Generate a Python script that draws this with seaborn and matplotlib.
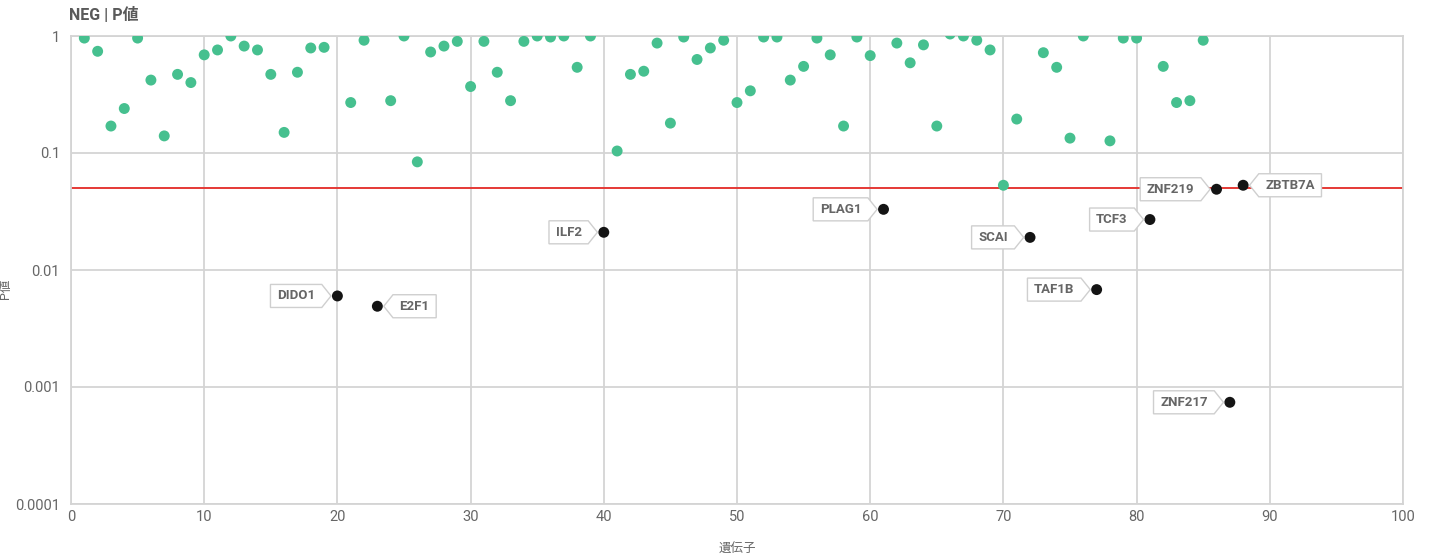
import numpy as np
import pandas as pd
import matplotlib
matplotlib.use("Agg")
import matplotlib.pyplot as plt
import seaborn as sns
from matplotlib.path import Path

# ---------------- data ----------------
gene_index = list(range(1, 89))
p_values = [
    0.96, 0.74, 0.17, 0.24, 0.96, 0.42, 0.14, 0.47, 0.40, 0.69,
    0.76, 1.00, 0.82, 0.76, 0.47, 0.15, 0.49, 0.79, 0.80, 0.0060,
    0.27, 0.92, 0.0049, 0.28, 1.00, 0.084, 0.73, 0.82, 0.90, 0.37,
    0.90, 0.49, 0.28, 0.90, 1.00, 0.98, 1.00, 0.54, 1.00, 0.021,
    0.104, 0.47, 0.50, 0.87, 0.18, 0.98, 0.63, 0.79, 0.92, 0.27,
    0.34, 0.98, 0.98, 0.42, 0.55, 0.96, 0.69, 0.17, 0.98, 0.68,
    0.033, 0.87, 0.59, 0.84, 0.17, 1.04, 1.00, 0.92, 0.76, 0.053,
    0.195, 0.019, 0.72, 0.54, 0.134, 1.00, 0.0068, 0.127, 0.96, 0.96,
    0.027, 0.55, 0.27, 0.28, 0.92, 0.049, 0.00074, 0.053,
]
labeled_genes = {
    20: "DIDO1", 23: "E2F1", 40: "ILF2", 61: "PLAG1", 72: "SCAI",
    77: "TAF1B", 81: "TCF3", 86: "ZNF219", 87: "ZNF217", 88: "ZBTB7A",
}
right_side_labels = ["E2F1", "ZBTB7A"]
threshold = 0.05
y_ticks = [1, 0.1, 0.01, 0.001, 0.0001]
y_tick_labels = ["1", "0.1", "0.01", "0.001", "0.0001"]
x_ticks = [0, 10, 20, 30, 40, 50, 60, 70, 80, 90, 100]
title = "NEG | P値"
x_label = "遺伝子"
y_label = "P値"

df = pd.DataFrame({"gene": gene_index, "p": p_values})
df["group"] = ["hit" if g in labeled_genes else "other" for g in df["gene"]]

# ---------------- style ----------------
sns.set_theme(style="white")
plt.rcParams["font.family"] = ["Roboto", "Noto Sans CJK JP", "DejaVu Sans"]

GREEN = "#46c08f"
BLACK = "#141414"
GRID = "#d4d4d4"
TXT = "#666666"

fig = plt.figure(figsize=(14.29, 5.56), dpi=100)
ax = fig.add_axes([71 / 1429, 1 - 504 / 556, (1403 - 71) / 1429, (504 - 36) / 556])

sns.scatterplot(data=df, x="gene", y="p", hue="group",
                palette={"other": GREEN, "hit": BLACK},
                s=62, linewidth=0, legend=False, ax=ax, zorder=3)

ax.set_yscale("log")
ax.set_ylim(0.0001, 1)
ax.set_xlim(0, 100)
ax.set_yticks(y_ticks)
ax.set_yticklabels(y_tick_labels)
ax.set_xticks(x_ticks)
ax.minorticks_off()
ax.grid(True, color=GRID, linewidth=1.3)
ax.set_axisbelow(True)
for s in ax.spines.values():
    s.set_color(GRID)
    s.set_linewidth(1.3)
ax.tick_params(axis="both", colors=GRID, labelcolor=TXT, labelsize=10.5,
               length=5, width=1.3)
ax.tick_params(axis="x", length=0, pad=4)
ax.tick_params(axis="y", pad=3)

ax.axhline(threshold, color="#e53935", linewidth=1.4, zorder=2)

ax.set_xlabel(x_label, color=TXT, fontsize=9, labelpad=13)
ax.set_ylabel(y_label, color=TXT, fontsize=9)
ax.yaxis.set_label_coords(-0.0445, 0.46)
fig.text(69 / 1429, 1 - 15 / 556, title, color="#5a5a5a", fontsize=11.5,
         fontweight="bold", va="center", ha="left")


def tag_right(x0, y0, width, height, mutation_size):
    px = 0.5 * mutation_size
    py = 0.38 * mutation_size
    x0 -= px; y0 -= py; width += 2 * px; height += 2 * py
    a = 0.7 * mutation_size
    verts = [(x0, y0), (x0 + width, y0), (x0 + width + a, y0 + height / 2),
             (x0 + width, y0 + height), (x0, y0 + height), (x0, y0)]
    return Path(verts, closed=True)


def tag_left(x0, y0, width, height, mutation_size):
    px = 0.5 * mutation_size
    py = 0.38 * mutation_size
    x0 -= px; y0 -= py; width += 2 * px; height += 2 * py
    a = 0.7 * mutation_size
    verts = [(x0, y0), (x0 + width, y0), (x0 + width, y0 + height),
             (x0, y0 + height), (x0 - a, y0 + height / 2), (x0, y0)]
    return Path(verts, closed=True)


for g, name in labeled_genes.items():
    p = p_values[g - 1]
    right = name in right_side_labels
    ax.annotate(name, xy=(g, p), xytext=(16 if right else -16, 0),
                textcoords="offset points", ha="left" if right else "right",
                va="center", fontsize=9.5, fontweight="bold", color=TXT,
                bbox=dict(boxstyle=tag_left if right else tag_right,
                          fc="white", ec="#cfcfcf", lw=1.0),
                zorder=4)

fig.savefig("out.png", dpi=100)
